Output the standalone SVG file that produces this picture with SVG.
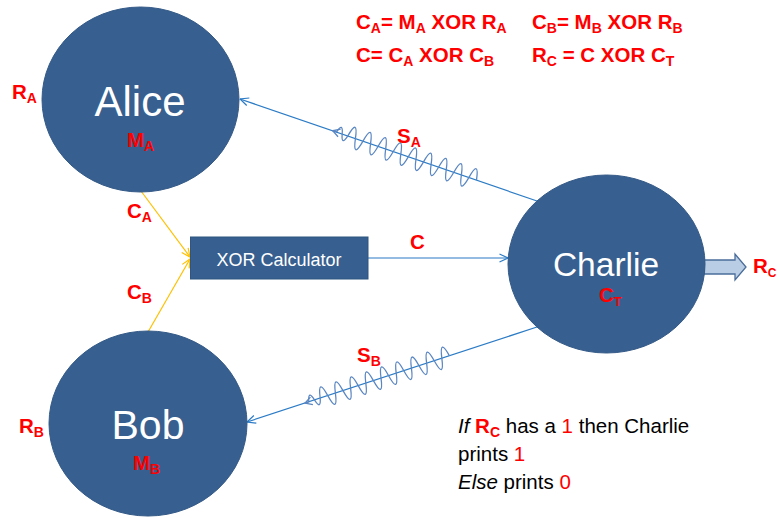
<svg xmlns="http://www.w3.org/2000/svg" width="778" height="518" viewBox="0 0 778 518">
<style>
.node{fill:#375F8F;stroke:#345a87;stroke-width:1}
.name{fill:#fff;font-family:"Liberation Sans",Arial,sans-serif;text-anchor:middle}
.red{fill:#ff0000;font-family:"Liberation Sans",Arial,sans-serif;font-weight:bold;font-size:20.5px}
.sub{font-size:14px}
.blue{stroke:#2b7bc6;stroke-width:1.2;fill:none}
.wave{stroke:#5a86c2;stroke-width:1.3;fill:none}
.yel{stroke:#ffc000;stroke-width:1.2;fill:none}
.body{font-family:"Liberation Sans",Arial,sans-serif;font-size:20.5px;fill:#000}
</style>
<defs>
<marker id="ab" viewBox="0 0 10 10" refX="9.5" refY="5" markerWidth="10" markerHeight="10" markerUnits="userSpaceOnUse" orient="auto">
<path d="M1,1 L9.5,5 L1,9" fill="none" stroke="#2b7bc6" stroke-width="1.2"/>
</marker>
<marker id="ay" viewBox="0 0 10 10" refX="9.5" refY="5" markerWidth="10" markerHeight="10" markerUnits="userSpaceOnUse" orient="auto">
<path d="M1,1 L9.5,5 L1,9" fill="none" stroke="#ffc000" stroke-width="1.2"/>
</marker>
</defs>
<rect width="778" height="518" fill="#fff"/>

<g id="connectors">
<line class="yel" x1="141" y1="191" x2="190" y2="257" marker-end="url(#ay)"/>
<line class="yel" x1="148" y1="332" x2="190" y2="259" marker-end="url(#ay)"/>
<line class="blue" x1="368" y1="258" x2="508" y2="258" marker-end="url(#ab)"/>
<line class="blue" x1="537" y1="201" x2="240" y2="99" marker-end="url(#ab)"/>
<line class="blue" x1="537" y1="327" x2="247" y2="422" marker-end="url(#ab)"/>
<g transform="translate(240,99) rotate(18.9)">
<path class="wave" d="M98,0 L102,0 q3,-12 6,0 t6,0 q4,-21 8,0 t8,0 t8,0 t8,0 t8,0 t8,0 t8,0 t8,0 t8,0 t8,0 t8,0 t8,0 t8,0 t8,0 t8,0 t8,0 t8,0"/>
<path class="wave" d="M105,-4 L98,0 L105,4"/>
</g>
<g transform="translate(247,422) rotate(-18.1)">
<path class="wave" d="M61,0 L65,0 q3,-12 6,0 t6,0 q4,-21 8,0 t8,0 t8,0 t8,0 t8,0 t8,0 t8,0 t8,0 t8,0 t8,0 t8,0 t8,0 t8,0 t8,0 t8,0 t8,0 t8,0"/>
<path class="wave" d="M68,-4 L61,0 L68,4"/>
</g>
<polygon points="704,260 735,260 735,254 746,267 735,280 735,274 704,274" fill="#b9cde5" stroke="#4a6d9a" stroke-width="1.3"/>
</g>

<g id="alice">
<ellipse class="node" cx="140.5" cy="99.5" rx="98.5" ry="92.5"/>
<text class="name" x="140" y="116" font-size="42">Alice</text>
<text class="red" x="127" y="147">M<tspan class="sub" dy="4">A</tspan></text>
</g>
<g id="bob">
<ellipse class="node" cx="148" cy="423.5" rx="99" ry="92.5"/>
<text class="name" x="148" y="439" font-size="41">Bob</text>
<text class="red" x="133" y="470">M<tspan class="sub" dy="4">B</tspan></text>
</g>
<g id="charlie">
<ellipse class="node" cx="606.5" cy="264" rx="98.5" ry="89"/>
<text class="name" x="606" y="276" font-size="33.5">Charlie</text>
<text class="red" x="599" y="302" font-size="19">C<tspan font-size="13" dy="4">T</tspan></text>
</g>
<g id="xor">
<rect x="190.5" y="237" width="177.5" height="42" fill="#375F8F" stroke="#2f5680" stroke-width="1"/>
<text class="name" x="279" y="266" font-size="18">XOR Calculator</text>
</g>

<g id="labels">
<text class="red" x="12" y="99">R<tspan class="sub" dy="4">A</tspan></text>
<text class="red" x="19" y="433">R<tspan class="sub" dy="4">B</tspan></text>
<text class="red" x="127" y="218">C<tspan class="sub" dy="4">A</tspan></text>
<text class="red" x="127" y="299">C<tspan class="sub" dy="4">B</tspan></text>
<text class="red" x="410" y="249">C</text>
<text class="red" x="397" y="143">S<tspan class="sub" dy="4">A</tspan></text>
<text class="red" x="357" y="362">S<tspan class="sub" dy="4">B</tspan></text>
<text class="red" x="753" y="273" font-size="19">R<tspan font-size="12" dy="4">C</tspan></text>
<text class="red" x="356" y="29">C<tspan class="sub" dy="4">A</tspan><tspan dy="-4">= M</tspan><tspan class="sub" dy="4">A</tspan><tspan dy="-4"> XOR R</tspan><tspan class="sub" dy="4">A</tspan></text>
<text class="red" x="532" y="29">C<tspan class="sub" dy="4">B</tspan><tspan dy="-4">= M</tspan><tspan class="sub" dy="4">B</tspan><tspan dy="-4"> XOR R</tspan><tspan class="sub" dy="4">B</tspan></text>
<text class="red" x="356" y="62">C= C<tspan class="sub" dy="4">A</tspan><tspan dy="-4"> XOR C</tspan><tspan class="sub" dy="4">B</tspan></text>
<text class="red" x="532" y="62">R<tspan class="sub" dy="4">C</tspan><tspan dy="-4"> = C XOR C</tspan><tspan class="sub" dy="4">T</tspan></text>
<text class="body" x="458" y="433"><tspan font-style="italic">If</tspan> <tspan fill="#ff0000" font-weight="bold">R</tspan><tspan fill="#ff0000" font-weight="bold" font-size="14" dy="4">C</tspan><tspan dy="-4"> has a </tspan><tspan fill="#ff0000">1</tspan> then Charlie</text>
<text class="body" x="458" y="461">prints <tspan fill="#ff0000">1</tspan></text>
<text class="body" x="458" y="489"><tspan font-style="italic">Else</tspan> prints <tspan fill="#ff0000">0</tspan></text>
</g>
</svg>
